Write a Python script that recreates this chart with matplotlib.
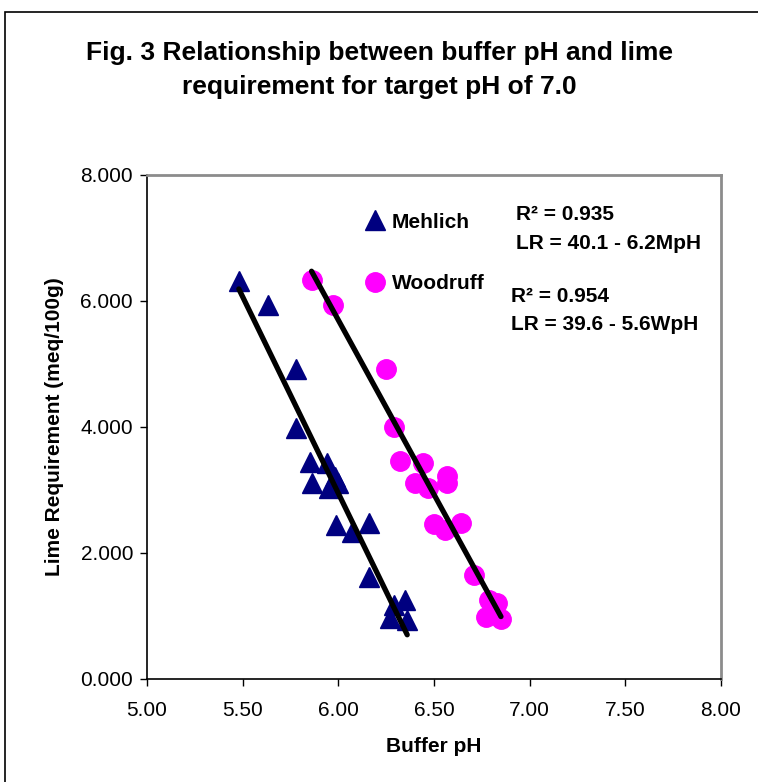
import numpy as np
import matplotlib
matplotlib.use("Agg")
import matplotlib.pyplot as plt
from matplotlib.patches import Rectangle

plt.rcParams['font.family'] = ['Liberation Sans', 'DejaVu Sans']

# ---- data ----
mehlich_ph = [5.48, 5.63, 5.78, 5.78, 5.85, 5.94, 5.98, 5.86, 5.95, 6.00,
              5.99, 6.07, 6.16, 6.16, 6.29, 6.35, 6.27, 6.36]
mehlich_lr = [6.32, 5.94, 4.92, 3.98, 3.44, 3.43, 3.21, 3.11, 3.03, 3.11,
              2.44, 2.33, 2.47, 1.62, 1.17, 1.25, 0.97, 0.94]
woodruff_ph = [5.86, 5.97, 6.25, 6.29, 6.32, 6.44, 6.40, 6.47, 6.57, 6.57,
               6.50, 6.56, 6.64, 6.71, 6.79, 6.83, 6.77, 6.85]
woodruff_lr = [6.33, 5.94, 4.92, 4.00, 3.46, 3.43, 3.11, 3.03, 3.22, 3.11,
               2.46, 2.36, 2.48, 1.65, 1.25, 1.20, 0.98, 0.95]
x_ticks = [5.00, 5.50, 6.00, 6.50, 7.00, 7.50, 8.00]
y_ticks = [0, 2, 4, 6, 8]
series_names = ["Mehlich", "Woodruff"]
eq_texts = ["R\u00b2 = 0.935", "LR = 40.1 - 6.2MpH", "R\u00b2 = 0.954", "LR = 39.6 - 5.6WpH"]
title = "Fig. 3 Relationship between buffer pH and lime\nrequirement for target pH of 7.0"

W, H = 758, 782
fig = plt.figure(figsize=(W / 100, H / 100), dpi=100)

def fx(px):
    return px / W

def fy(py):
    return 1 - py / H

# outer chart frame (clipped at right/bottom)
fig.patches.append(Rectangle((fx(5), -0.05), 1.2, fy(12) + 0.05, transform=fig.transFigure,
                             fill=False, edgecolor='#000000', linewidth=1.2))

ax = fig.add_axes([fx(147), fy(679), fx(721) - fx(147), fy(175) - fy(679)])

navy = '#000080'
magenta = '#FF00FF'

ax.plot(mehlich_ph, mehlich_lr, linestyle='none', marker='^', markersize=15,
        color=navy, label=series_names[0], zorder=3)
ax.plot(woodruff_ph, woodruff_lr, linestyle='none', marker='o', markersize=14,
        color=magenta, label=series_names[1], zorder=3)

# linear trendlines
for xs, ys in [(mehlich_ph, mehlich_lr), (woodruff_ph, woodruff_lr)]:
    xs = np.asarray(xs); ys = np.asarray(ys)
    m, b = np.polyfit(xs, ys, 1)
    xx = np.array([xs.min(), xs.max()])
    ax.plot(xx, m * xx + b, color='black', linewidth=3.8, solid_capstyle='round', zorder=4)

ax.set_xlim(5, 8)
ax.set_ylim(0, 8)
ax.set_xticks(x_ticks)
ax.set_xticklabels([f"{v:.2f}" for v in x_ticks])
ax.set_yticks(y_ticks)
ax.set_yticklabels([f"{v:.3f}" for v in y_ticks])
ax.tick_params(axis='both', direction='out', length=5, width=1, labelsize=15, color='black')
ax.tick_params(axis='x', pad=11)
ax.tick_params(axis='y', pad=5)

for s in ['top', 'right']:
    ax.spines[s].set_color('#8c8c8c')
    ax.spines[s].set_linewidth(2)
for s in ['left', 'bottom']:
    ax.spines[s].set_color('#000000')
    ax.spines[s].set_linewidth(1.2)

ax.set_xlabel("Buffer pH", fontsize=15, fontweight='bold', labelpad=12)
ax.set_ylabel("Lime Requirement (meq/100g)", fontsize=15, fontweight='bold', labelpad=12)

fig.text(0.5, fy(70), title, ha='center', va='center', fontsize=19, fontweight='bold',
         linespacing=1.5)

leg = ax.legend(loc='center left', bbox_to_anchor=(fx(352), fy(253)), bbox_transform=fig.transFigure,
                frameon=False, prop={'size': 15, 'weight': 'bold'}, labelspacing=2.05,
                handletextpad=0.2, handlelength=1.2, borderpad=0, numpoints=1)

fig.text(fx(516), fy(214), eq_texts[0], ha='left', va='center', fontsize=15, fontweight='bold')
fig.text(fx(516), fy(243), eq_texts[1], ha='left', va='center', fontsize=15, fontweight='bold')
fig.text(fx(511), fy(296), eq_texts[2], ha='left', va='center', fontsize=15, fontweight='bold')
fig.text(fx(511), fy(325), eq_texts[3], ha='left', va='center', fontsize=15, fontweight='bold')

fig.savefig("out.png", dpi=100, facecolor='white')
